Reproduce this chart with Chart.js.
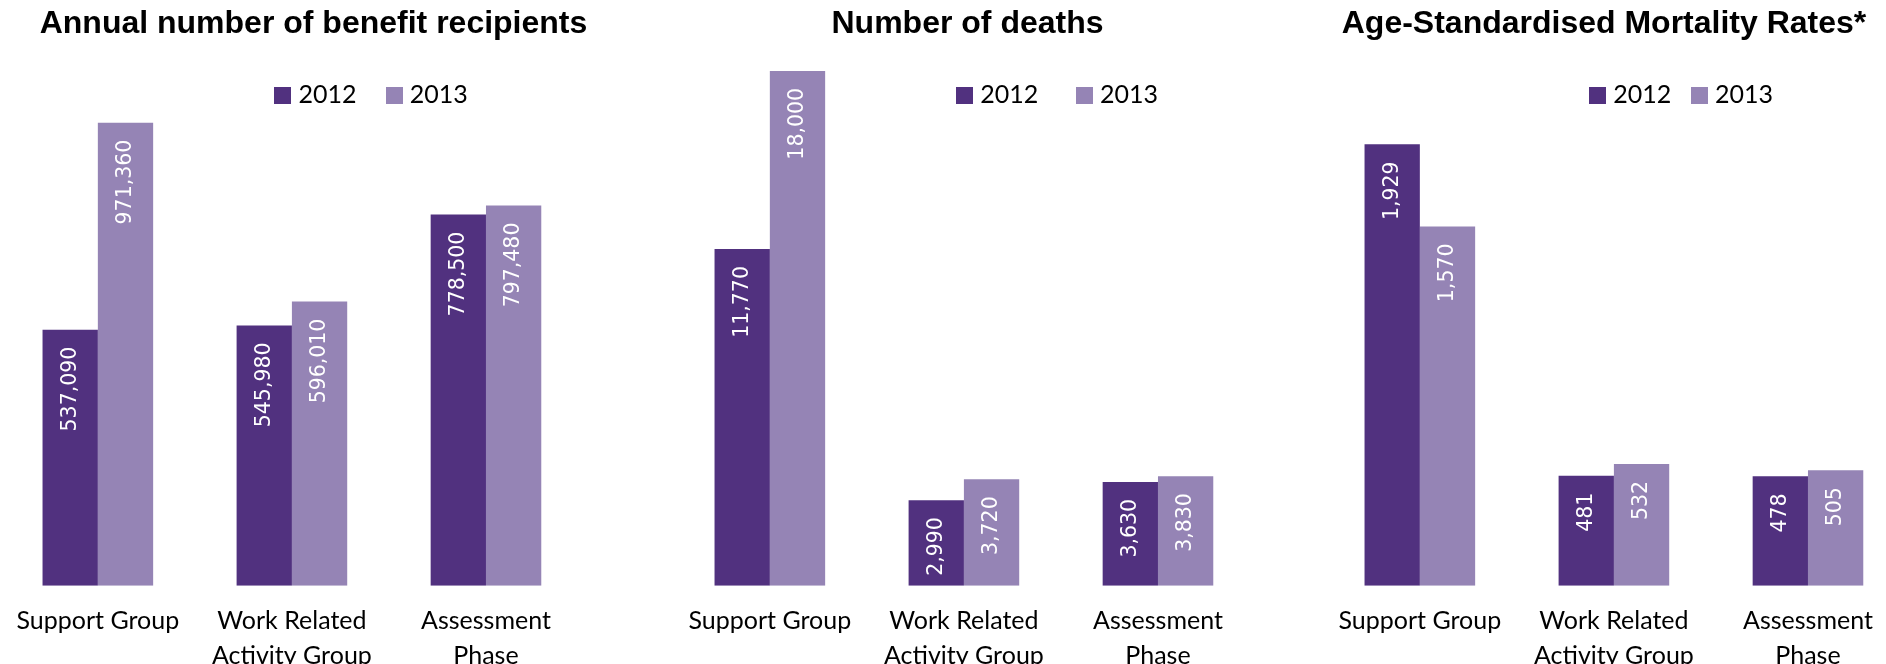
<!DOCTYPE html>
<html><head><meta charset="utf-8">
<script src="https://cdn.jsdelivr.net/npm/chart.js@4/dist/chart.umd.min.js"></script>
<style>
html,body{margin:0;padding:0;background:#fff;width:1886px;height:664px;overflow:hidden;position:relative}
canvas{position:absolute;top:0}
</style></head><body>
<canvas id="c1" width="640" height="700" style="left:-1px"></canvas>
<canvas id="c2" width="640" height="700" style="left:671px"></canvas>
<canvas id="c3" width="640" height="700" style="left:1321px"></canvas>
<script>
// ---- data ----
const categories = ['Support Group', ['Work Related', 'Activity Group'], ['Assessment', 'Phase']];
const seriesNames = ['2012', '2013'];
const recipients2012 = [537090, 545980, 778500];
const recipients2013 = [971360, 596010, 797480];
const deaths2012 = [11770, 2990, 3630];
const deaths2013 = [18000, 3720, 3830];
const asmr2012 = [1929, 481, 478];
const asmr2013 = [1570, 532, 505];
const chartTitles = ['Annual number of benefit recipients', 'Number of deaths', 'Age-Standardised Mortality Rates*'];
const axisMax = [1200000, 20000, 2500];

// ---- styling ----
const DARK = '#51317F';
const LIGHT = '#9584B5';
const AXIS_FONT = 'Lato, "Open Sans", sans-serif';

function swatch(color) {
  const c = document.createElement('canvas');
  c.width = 17; c.height = 17;
  const x = c.getContext('2d');
  x.fillStyle = color; x.fillRect(0, 0, 17, 17);
  return c;
}
const swatches = [swatch(DARK), swatch(LIGHT)];

const placePlugin = {
  id: 'place',
  afterLayout(chart, args, o) {
    const t = chart.titleBlock;
    if (t) { const w = t.right - t.left; t.left = o.titleX - w / 2; t.right = t.left + w; }
    const lg = chart.legend;
    if (lg) {
      const w = lg.right - lg.left;
      lg.left = o.legendX - w / 2; lg.right = lg.left + w;
      const p = o.legendPad, fs = o.legendFont;
      lg.top = o.legendY - p - fs / 2;
      lg.bottom = lg.top + 2 * p + fs + 20;
    }
  }
};

const labelPlugin = {
  id: 'barLabels',
  afterDatasetsDraw(chart, args, o) {
    const ctx = chart.ctx;
    ctx.save();
    ctx.font = o.font;
    ctx.fillStyle = '#ffffff';
    ctx.textAlign = 'right';
    ctx.textBaseline = 'middle';
    chart.data.datasets.forEach((ds, di) => {
      const meta = chart.getDatasetMeta(di);
      meta.data.forEach((bar, i) => {
        ctx.save();
        ctx.translate(bar.x, bar.y + o.offset);
        ctx.rotate(-Math.PI / 2);
        ctx.fillText(ds.data[i].toLocaleString('en-US'), 0, 0);
        ctx.restore();
      });
    });
    ctx.restore();
  }
};

function makeChart(id, title, d12, d13, ymax, place) {
  const chart = new Chart(document.getElementById(id), {
    type: 'bar',
    data: {
      labels: categories,
      datasets: [
        { label: seriesNames[0], data: d12, backgroundColor: DARK, borderWidth: 0, categoryPercentage: 0.57, barPercentage: 1 },
        { label: seriesNames[1], data: d13, backgroundColor: LIGHT, borderWidth: 0, categoryPercentage: 0.57, barPercentage: 1 }
      ]
    },
    options: {
      responsive: false,
      animation: false,
      devicePixelRatio: 1,
      layout: { padding: { left: 0, right: 56, top: 0, bottom: 9.3 } },
      scales: {
        x: {
          grid: { display: false, drawTicks: false },
          border: { display: false },
          ticks: { color: '#000', font: { family: AXIS_FONT, size: 25, lineHeight: 1.4 }, padding: 17.5, maxRotation: 0, minRotation: 0, autoSkip: false }
        },
        y: { display: false, min: 0, max: ymax }
      },
      plugins: {
        title: {
          display: true, text: title, color: '#000',
          font: { family: '"Liberation Sans", Arial, sans-serif', size: 32, weight: 'bold', lineHeight: 1.2 },
          padding: { top: 4.8, bottom: -29.5 }
        },
        legend: {
          display: true, position: 'top',
          labels: {
            usePointStyle: true, pointStyleWidth: 6.6, padding: place.legendPad, color: '#000',
            font: { family: AXIS_FONT, size: 25 },
            generateLabels(ch) {
              const items = Chart.defaults.plugins.legend.labels.generateLabels(ch);
              items.forEach((it, i) => { it.pointStyle = swatches[i]; });
              return items;
            }
          }
        },
        tooltip: { enabled: false },
        place: Object.assign({ legendFont: 25, legendY: 95.3 }, place),
        barLabels: { offset: 17, font: '20.5px "DejaVu Sans"' }
      }
    },
    plugins: [placePlugin, labelPlugin]
  });
  const lg = chart.legend;
  const fit0 = lg.fit;
  lg.fit = function () { fit0.call(this); this.height = 0; };
  chart.update();
  return chart;
}

makeChart('c1', chartTitles[0], recipients2012, recipients2013, axisMax[0], { titleX: 314.5, legendX: 374.6, legendPad: 34.2 });
makeChart('c2', chartTitles[1], deaths2012, deaths2013, axisMax[1], { titleX: 296.5, legendX: 388.6, legendPad: 42.7 });
makeChart('c3', chartTitles[2], asmr2012, asmr2013, axisMax[2], { titleX: 283, legendX: 362.6, legendPad: 24.7 });
</script>
</body></html>
